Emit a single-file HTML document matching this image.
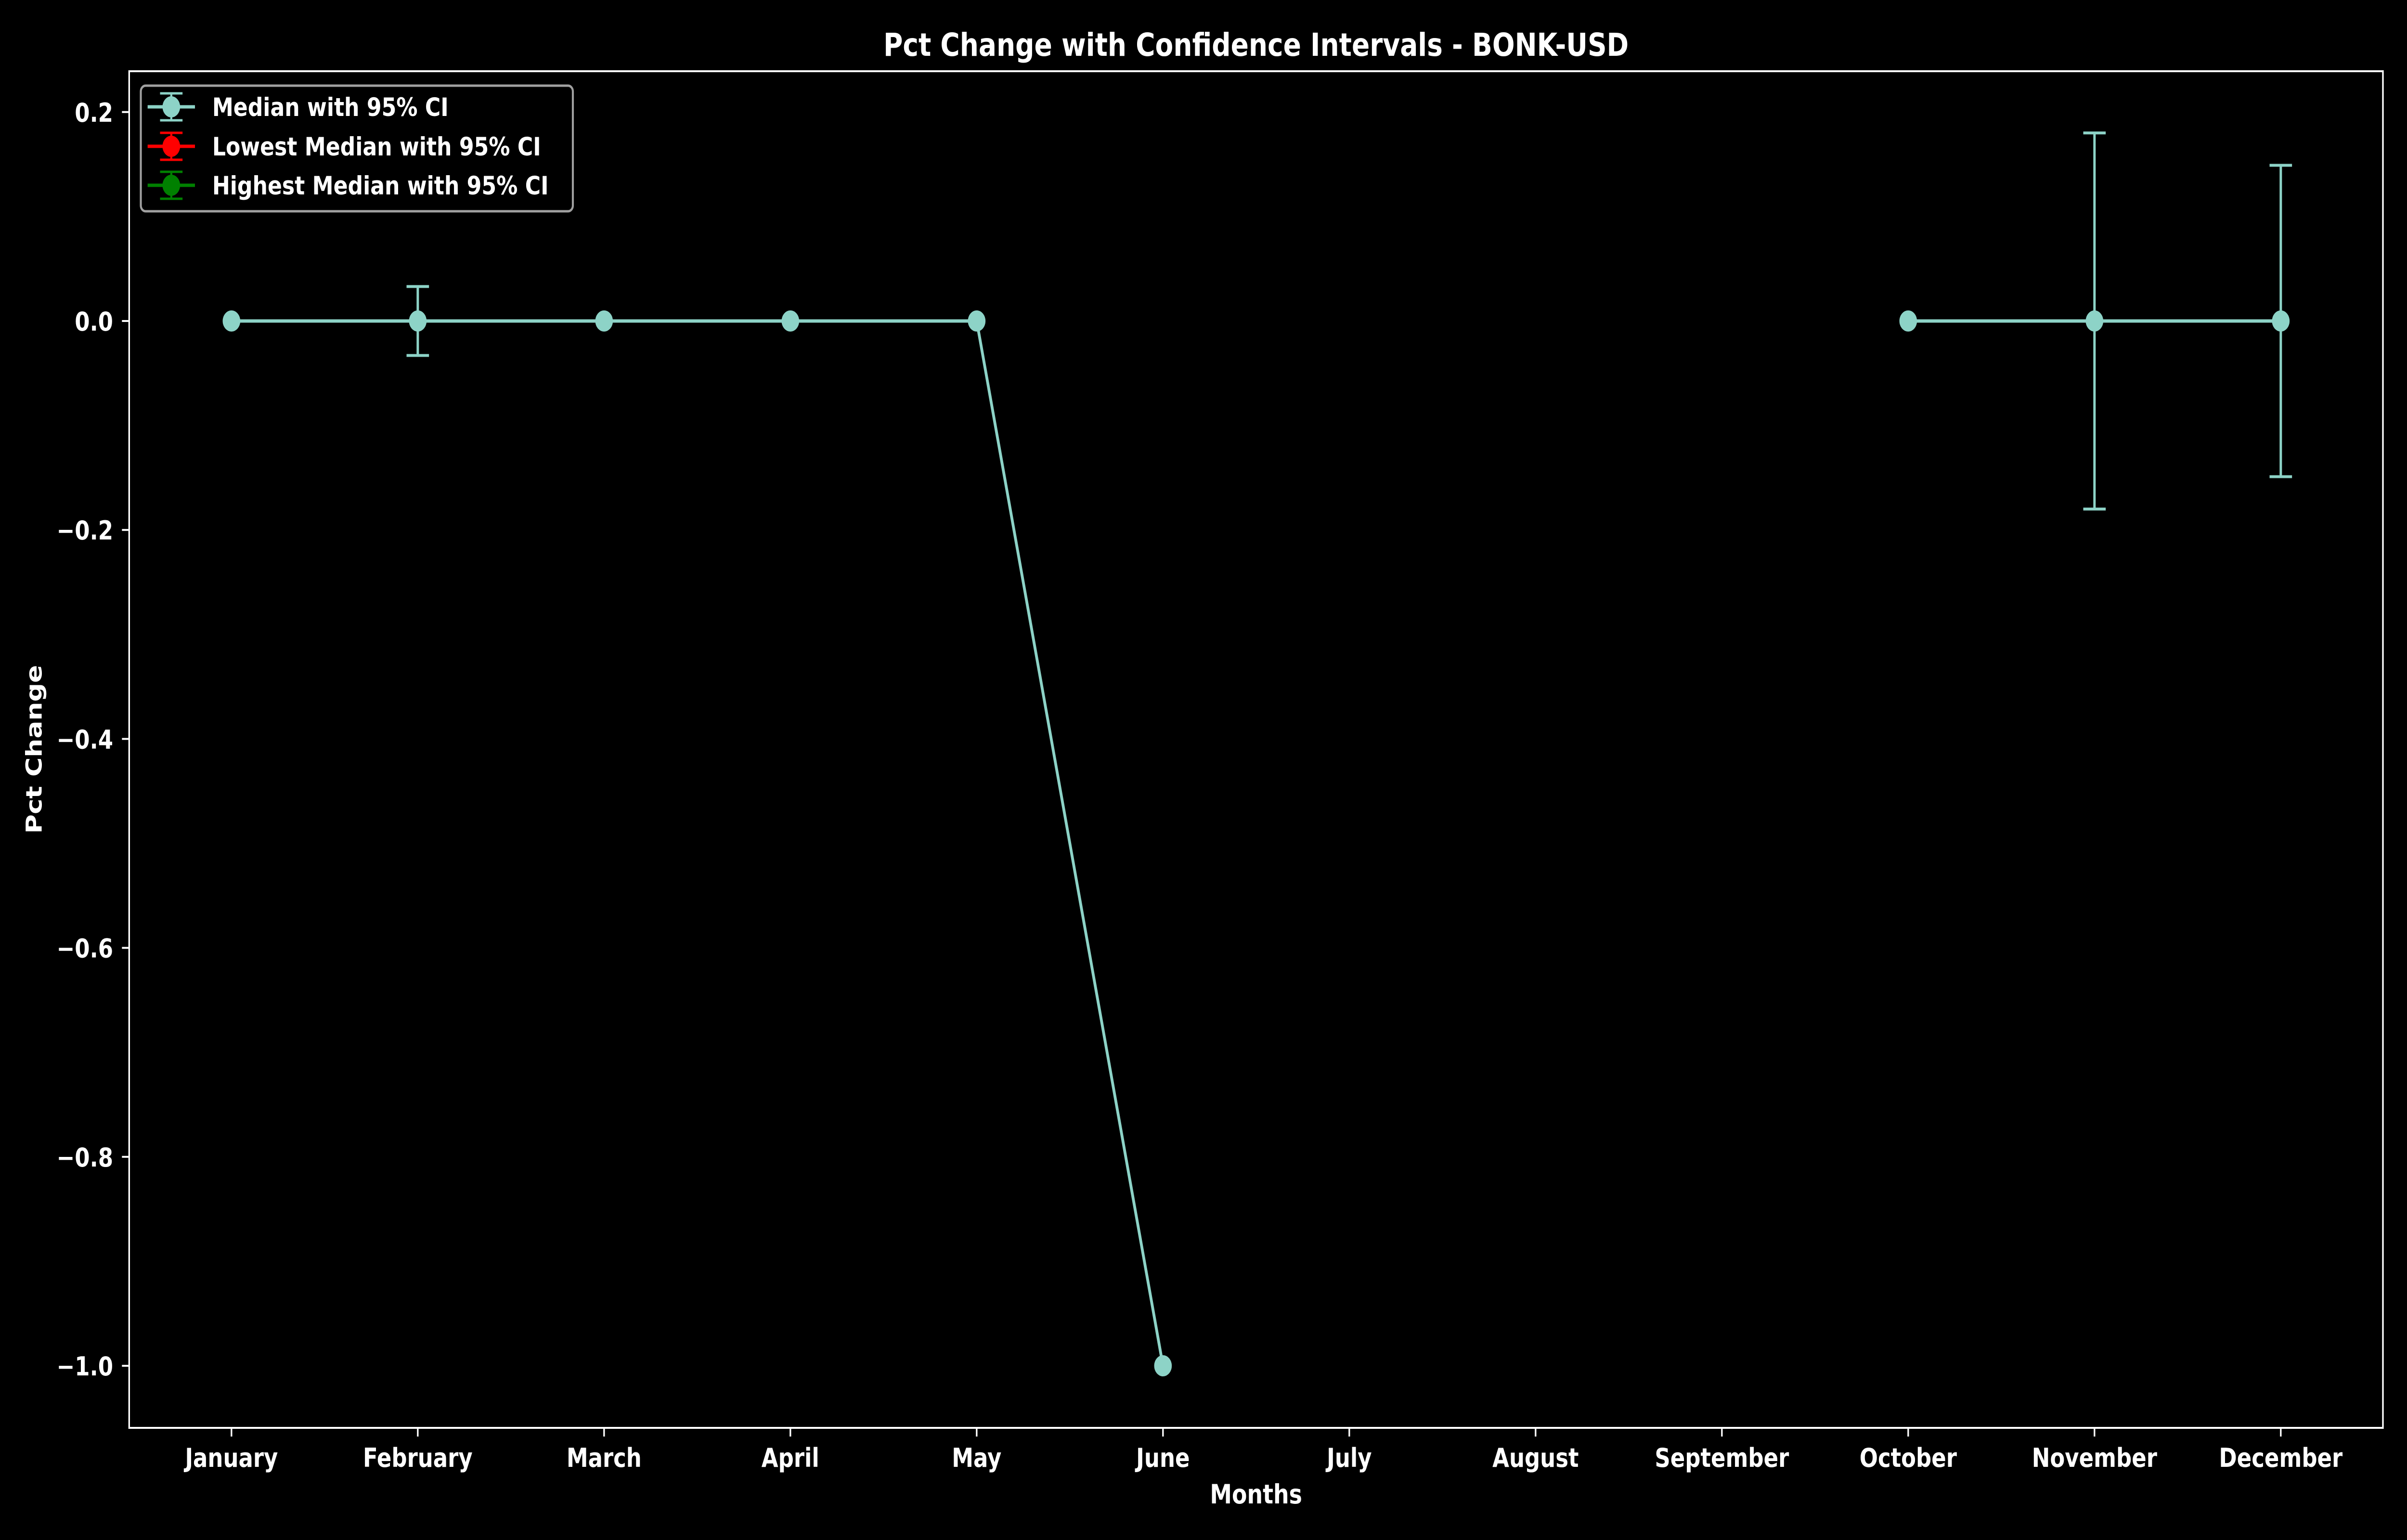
<!DOCTYPE html>
<html><head><meta charset="utf-8"><style>
html,body{margin:0;padding:0;background:#000;width:100%;height:100%;overflow:hidden;}
svg{display:block;width:100vw;height:100vh;font-family:"DejaVu Sans","Liberation Sans",sans-serif;font-weight:bold;}
</style></head><body>
<svg id="chart" viewBox="0 0 6000 3200" preserveAspectRatio="none" xmlns="http://www.w3.org/2000/svg">
<rect x="0" y="0" width="6000" height="3200" fill="#000"/>
<text x="3131" y="116" font-size="66" fill="#fff" text-anchor="middle">Pct Change with Confidence Intervals - BONK-USD</text>
<g id="plot"></g>
<text x="3131" y="3124" font-size="55" fill="#fff" text-anchor="middle">Months</text>
<text x="0" y="0" font-size="55" fill="#fff" text-anchor="middle" transform="translate(104,1557) rotate(-90)">Pct Change</text>
<g>
<rect x="351" y="178" width="1077" height="261" rx="12" fill="#000" stroke="#a0a0a0" stroke-width="5"/>
<g>
<line x1="368" y1="222" x2="486" y2="222" stroke="#8dd3c7" stroke-width="7"/><line x1="427" y1="194" x2="427" y2="250" stroke="#8dd3c7" stroke-width="5"/><line x1="399" y1="194" x2="455" y2="194" stroke="#8dd3c7" stroke-width="5"/><line x1="399" y1="250" x2="455" y2="250" stroke="#8dd3c7" stroke-width="5"/><circle cx="427" cy="222" r="22" fill="#8dd3c7"/>
<text x="529" y="241" font-size="53" fill="#fff">Median with 95% CI</text></g>
<g>
<line x1="368" y1="304" x2="486" y2="304" stroke="#ff0000" stroke-width="7"/><line x1="427" y1="276" x2="427" y2="332" stroke="#ff0000" stroke-width="5"/><line x1="399" y1="276" x2="455" y2="276" stroke="#ff0000" stroke-width="5"/><line x1="399" y1="332" x2="455" y2="332" stroke="#ff0000" stroke-width="5"/><circle cx="427" cy="304" r="22" fill="#ff0000"/>
<text x="529" y="323" font-size="53" fill="#fff">Lowest Median with 95% CI</text></g>
<g>
<line x1="368" y1="385" x2="486" y2="385" stroke="#008000" stroke-width="7"/><line x1="427" y1="357" x2="427" y2="413" stroke="#008000" stroke-width="5"/><line x1="399" y1="357" x2="455" y2="357" stroke="#008000" stroke-width="5"/><line x1="399" y1="413" x2="455" y2="413" stroke="#008000" stroke-width="5"/><circle cx="427" cy="385" r="22" fill="#008000"/>
<text x="529" y="404" font-size="53" fill="#fff">Highest Median with 95% CI</text></g>
</g>
</svg>
<script>
const months = ["January","February","March","April","May","June","July","August","September","October","November","December"];
const medianValues = [0, 0, 0, 0, 0, -1.0, null, null, null, 0, 0, 0];
const ciErrors = [0, 0.033, 0, 0, 0, 0, null, null, null, 0, 0.18, 0.149];
const yTickValues = [0.2, 0.0, -0.2, -0.4, -0.6, -0.8, -1.0];
const yTickLabels = ["0.2","0.0","\u22120.2","\u22120.4","\u22120.6","\u22120.8","\u22121.0"];

const NS = "http://www.w3.org/2000/svg";
const AX = {left:322, right:5940, top:148, bottom:2967};
const X0 = 577, DX = 464.4;
function xPos(i){ return X0 + i*DX; }
function yPos(v){ return 667 - v*2171; }
const plot = document.getElementById('plot');
function mk(tag, attrs, parent){
  const e = document.createElementNS(NS, tag);
  for (const k in attrs) e.setAttribute(k, attrs[k]);
  (parent||plot).appendChild(e);
  return e;
}
const C = "#8dd3c7";
let d = "", pen = false;
medianValues.forEach((v,i)=>{
  if (v === null) { pen = false; return; }
  d += (pen ? "L" : "M") + xPos(i) + " " + yPos(v) + " ";
  pen = true;
});
const path = mk('path', {d:d, fill:'none', stroke:C, 'stroke-width':7, 'stroke-linejoin':'round'});


medianValues.forEach((v,i)=>{
  if (v === null) return;
  const e = ciErrors[i];
  const x = xPos(i);
  if (e > 0) {
    const g = mk('g', {});
    
    
    mk('line', {x1:x, y1:yPos(v+e), x2:x, y2:yPos(v-e), stroke:C, 'stroke-width':6}, g);
    mk('line', {x1:x-28, y1:yPos(v+e), x2:x+28, y2:yPos(v+e), stroke:C, 'stroke-width':6}, g);
    mk('line', {x1:x-28, y1:yPos(v-e), x2:x+28, y2:yPos(v-e), stroke:C, 'stroke-width':6}, g);
  }
  const c = mk('circle', {cx:x, cy:yPos(v), r:22, fill:C});
  
  
});
const frame = mk('rect', {x:AX.left, y:AX.top, width:AX.right-AX.left, height:AX.bottom-AX.top, fill:'none', stroke:'#fff', 'stroke-width':4});


months.forEach((m,i)=>{
  const x = xPos(i);
  const t = mk('line', {x1:x, y1:AX.bottom, x2:x, y2:AX.bottom+18, stroke:'#fff', 'stroke-width':4});
  
  
  const l = mk('text', {x:x, y:3048, 'font-size':54, fill:'#fff', 'text-anchor':'middle'});
  l.textContent = m;
  
  
});
yTickValues.forEach((v,i)=>{
  const y = yPos(v);
  const t = mk('line', {x1:AX.left-18, y1:y, x2:AX.left, y2:y, stroke:'#fff', 'stroke-width':4});
  
  
  const l = mk('text', {x:282, y:y+20, 'font-size':54, fill:'#fff', 'text-anchor':'end'});
  l.textContent = yTickLabels[i];
  
  
});
</script>
</body></html>
